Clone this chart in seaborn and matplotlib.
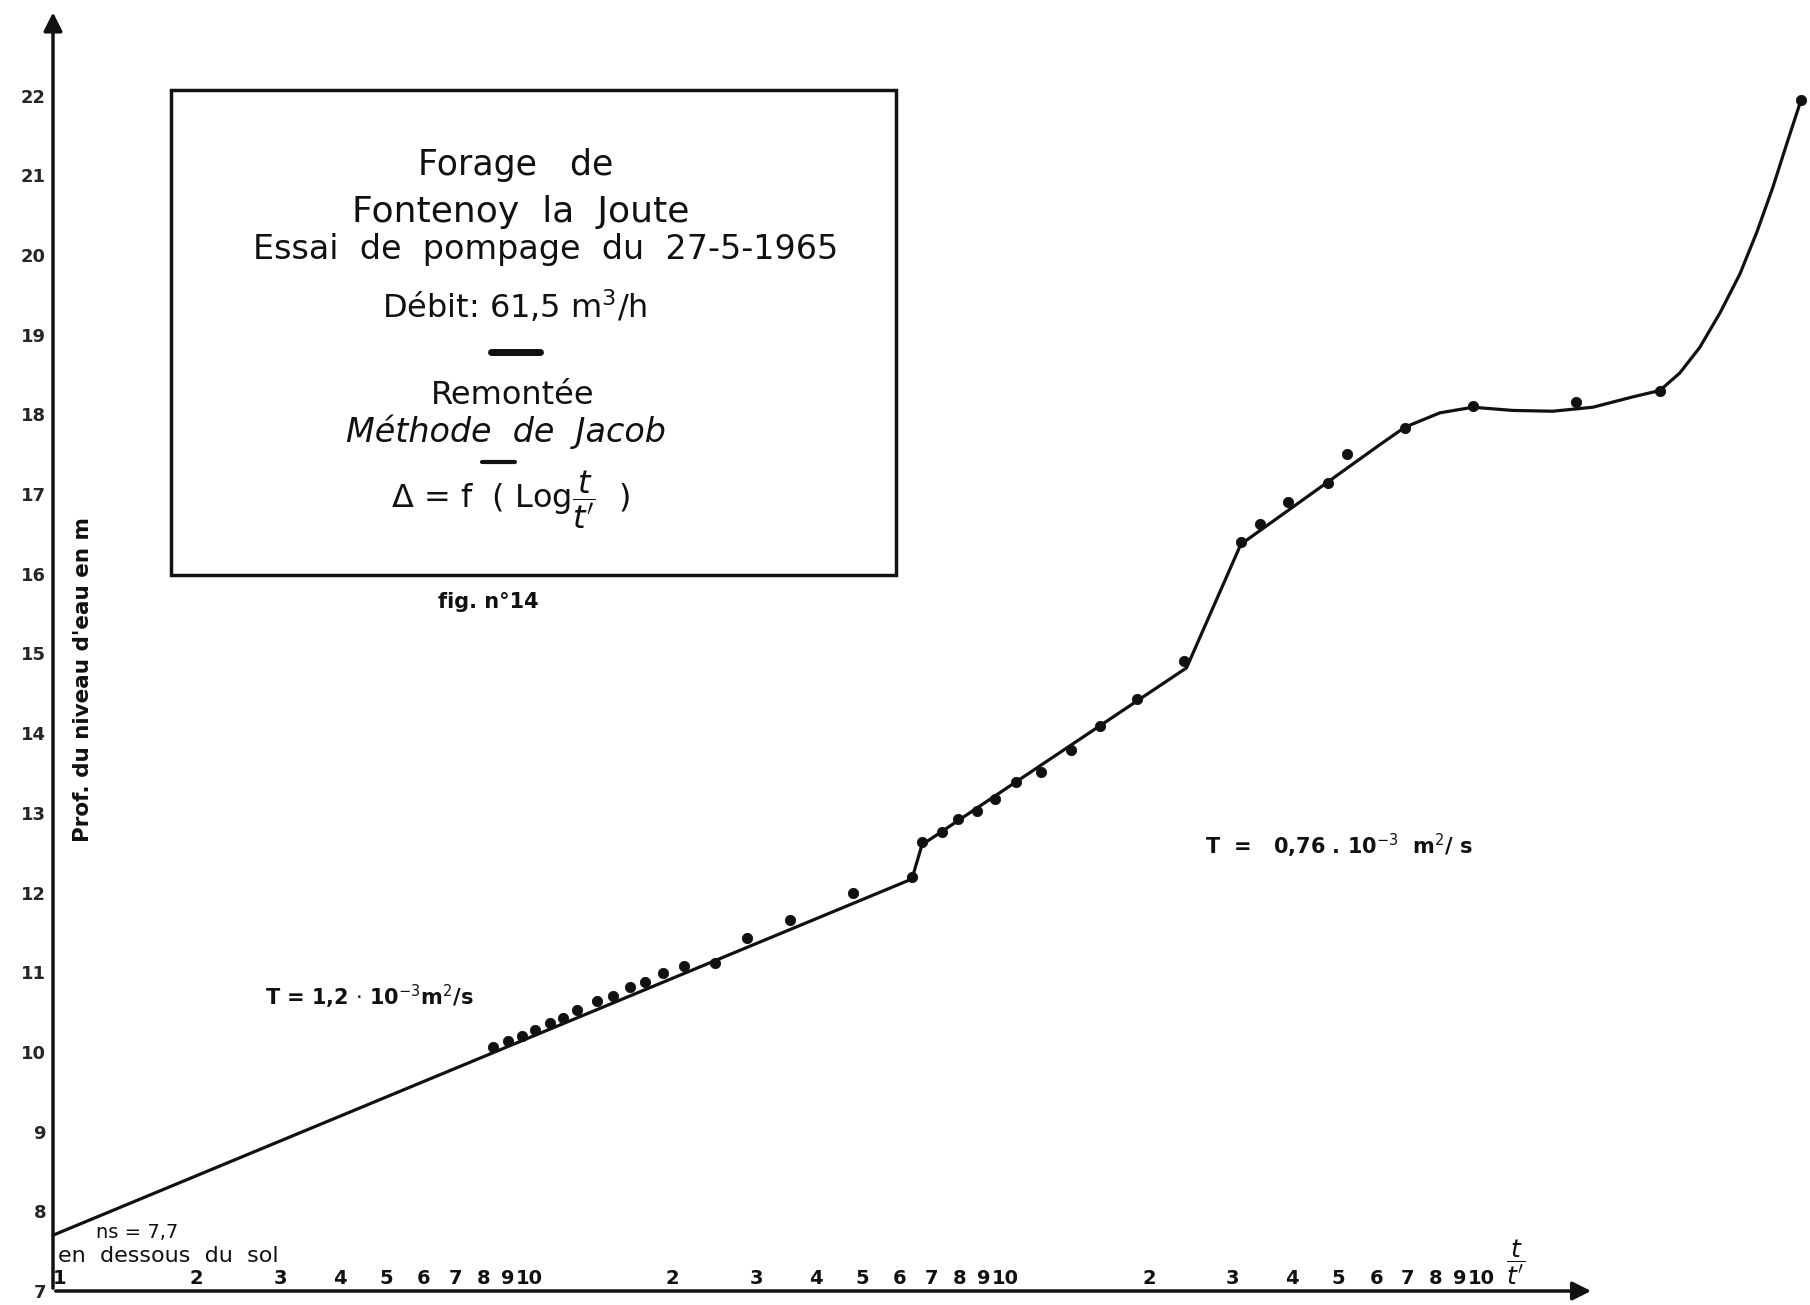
import numpy as np
import pandas as pd
import matplotlib
matplotlib.use("Agg")
import matplotlib.pyplot as plt
import matplotlib.patches as patches
import seaborn as sns

# measured points (t/t', depth of water level in m)
t_ratio = [8.39, 9.02, 9.65, 10.3, 11.05, 11.8, 12.6, 13.9, 15.0, 16.3, 17.5, 19.1,
           21.1, 24.6, 28.7, 35.3, 47.8, 63.6, 66.8, 73.6, 79.5, 87.1, 95.0, 105,
           119, 137, 158, 189, 237, 312, 342, 392, 475, 521, 690, 958, 1580, 2365, 4680]
depth = [10.06, 10.14, 10.20, 10.27, 10.36, 10.43, 10.53, 10.64, 10.70, 10.81, 10.88, 10.99,
         11.08, 11.12, 11.43, 11.65, 11.99, 12.19, 12.63, 12.76, 12.92, 13.02, 13.17, 13.39,
         13.51, 13.79, 14.09, 14.43, 14.90, 16.40, 16.62, 16.90, 17.14, 17.50, 17.83, 18.10,
         18.15, 18.29, 21.94]

# hand drawn fitted line
fit_t = [1, 63.6, 66.8, 240, 312, 611, 690, 817, 958, 1162, 1410, 1711, 2076, 2366,
         2606, 2869, 3162, 3483, 3783, 4086, 4372, 4680]
fit_d = [7.7, 12.17, 12.6, 14.82, 16.37, 17.62, 17.84, 18.02, 18.09, 18.05, 18.04, 18.09,
         18.22, 18.30, 18.52, 18.84, 19.27, 19.76, 20.29, 20.85, 21.40, 21.94]

x_ticks = [1, 2, 3, 4, 5, 6, 7, 8, 9, 10, 20, 30, 40, 50, 60, 70, 80, 90, 100,
           200, 300, 400, 500, 600, 700, 800, 900, 1000]
x_labels = ["1", "2", "3", "4", "5", "6", "7", "8", "9", "10",
            "2", "3", "4", "5", "6", "7", "8", "9", "10",
            "2", "3", "4", "5", "6", "7", "8", "9", "10"]
y_ticks = list(range(7, 23))

df_pts = pd.DataFrame({"t": t_ratio, "d": depth})
df_fit = pd.DataFrame({"t": fit_t, "d": fit_d})

sns.set_theme(style="white")
plt.rcParams["font.family"] = ["DejaVu Sans"]
plt.rcParams["mathtext.fontset"] = "dejavusans"
plt.rcParams["text.color"] = "#111111"
plt.rcParams["lines.solid_joinstyle"] = "round"

W, H = 1810, 1305
fig = plt.figure(figsize=(W / 100, H / 100), dpi=100)
fig.patch.set_facecolor("white")
ax = fig.add_axes([53 / W, 14 / H, 1 - 53 / W, 1 - 22 / H])
ax.set_xscale("log")
ax.set_xlim(1, 4890)
ax.set_ylim(7, 23.1)
ax.patch.set_alpha(0)

sns.lineplot(data=df_fit, x="t", y="d", sort=False, estimator=None, color="#111111",
             linewidth=2.3, ax=ax, clip_on=False)
sns.scatterplot(data=df_pts, x="t", y="d", color="#111111", s=55, edgecolor="#111111",
                ax=ax, clip_on=False, zorder=5)

for s in ax.spines.values():
    s.set_visible(False)

ax.set_xticks(x_ticks)
ax.set_xticklabels(x_labels, fontsize=14, fontweight="bold")
ax.xaxis.set_minor_locator(matplotlib.ticker.NullLocator())
ax.tick_params(axis="x", direction="inout", length=6, width=1.5, pad=-19,
               colors="#111111")
# first label sits just right of the vertical axis
ax.get_xticklabels()[0].set_horizontalalignment("left")
ax.set_yticks(y_ticks)
ax.set_yticklabels([str(v) for v in y_ticks], fontsize=13, fontweight="bold")
ax.tick_params(axis="y", length=0, pad=5)
ax.set_xlabel("")
ax.set_ylabel("")

# axes drawn as arrows
ax.annotate("", xy=(1720, 7), xytext=(1, 7),
            arrowprops=dict(arrowstyle="-|>", lw=2.5, color="#111111", mutation_scale=28),
            annotation_clip=False)
ax.annotate("", xy=(1, 23.08), xytext=(1, 7),
            arrowprops=dict(arrowstyle="-|>", lw=2.5, color="#111111", mutation_scale=28),
            annotation_clip=False)


def fx(px):
    return px / W


def fy(py):
    return 1 - py / H


# title box
fig.patches.append(patches.Rectangle((fx(171), fy(575)), (896 - 171) / W, (575 - 90) / H,
                                     transform=fig.transFigure, fill=False, lw=2.5,
                                     edgecolor="#111111"))
fig.text(fx(516), fy(165), "Forage   de", ha="center", va="center", fontsize=25)
fig.text(fx(521), fy(212), "Fontenoy  la  Joute", ha="center", va="center", fontsize=26)
fig.text(fx(546), fy(249), "Essai  de  pompage  du  27-5-1965", ha="center", va="center",
         fontsize=24)
fig.text(fx(515), fy(307), "Débit: 61,5 m$^3$/h", ha="center", va="center", fontsize=23)
fig.lines.append(plt.Line2D([fx(491), fx(540)], [fy(352), fy(352)], lw=5, color="#111111",
                            transform=fig.transFigure))
fig.text(fx(513), fy(396), "Remontée", ha="center", va="center", fontsize=23)
fig.text(fx(506), fy(432), "Méthode  de  Jacob", ha="center", va="center",
         fontsize=24, style="italic")
fig.text(fx(510), fy(500), r"$\Delta$ = f  ( Log$\dfrac{t}{t'}$  )", ha="center",
         va="center", fontsize=23)
fig.lines.append(plt.Line2D([fx(482), fx(515)], [fy(462), fy(462)], lw=3, color="#111111",
                            transform=fig.transFigure))
fig.text(fx(488), fy(602), "fig. n°14", ha="center", va="center", fontsize=15,
         fontweight="bold")

# axis title
fig.text(fx(83), fy(680), "Prof. du niveau d'eau en m", rotation=90, ha="center",
         va="center", fontsize=15.5, fontweight="bold")

# annotations
fig.text(fx(265), fy(997), r"T = 1,2 $\cdot$ 10$^{-3}$m$^2$/s", ha="left", va="center",
         fontsize=15, fontweight="bold")
fig.text(fx(1205), fy(846), r"T  =   0,76 . 10$^{-3}$  m$^2$/ s", ha="left", va="center",
         fontsize=15, fontweight="bold")
fig.text(fx(96), fy(1232), "ns = 7,7", ha="left", va="center", fontsize=14)
fig.text(fx(58), fy(1256), "en  dessous  du  sol", ha="left", va="center", fontsize=16)
fig.text(fx(1516), fy(1262), r"$\dfrac{t}{t'}$", ha="center", va="center", fontsize=18)

fig.savefig("out.png", dpi=100, facecolor="white")
